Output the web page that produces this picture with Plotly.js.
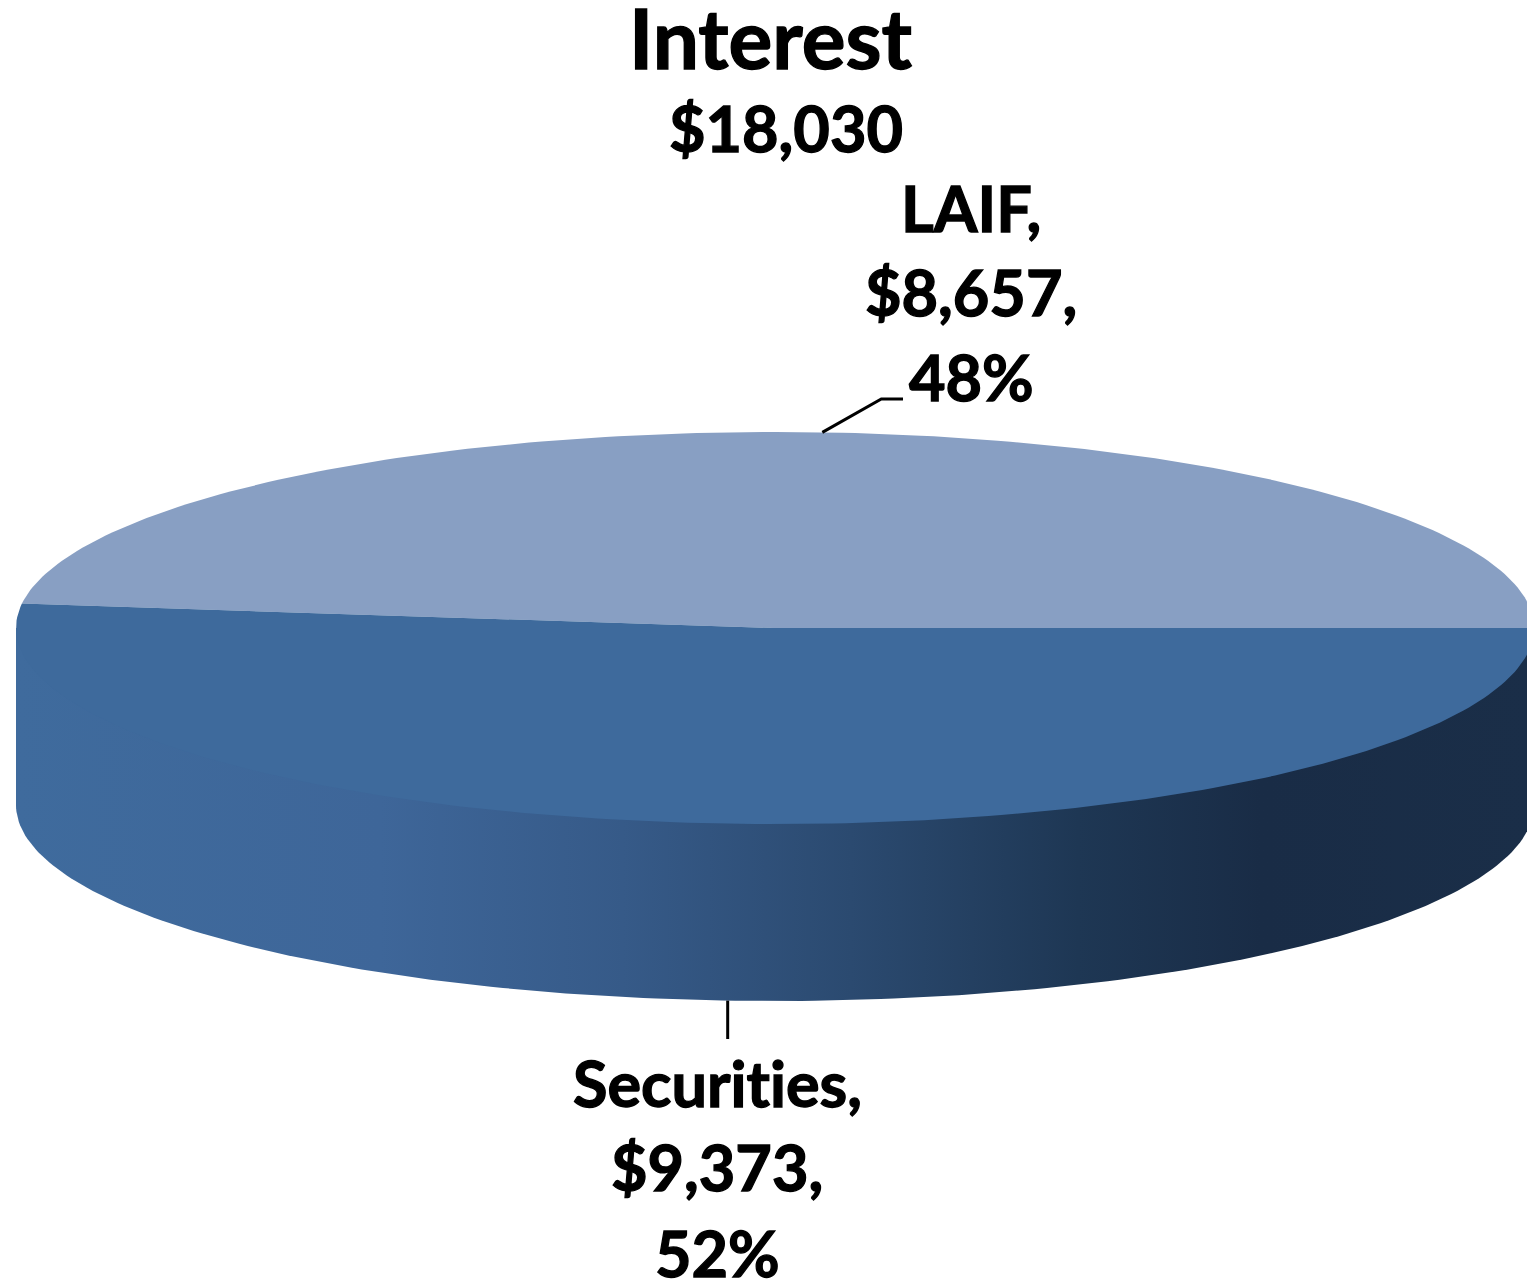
<!DOCTYPE html>
<html>
<head>
<meta charset="utf-8">
<script src="https://cdn.plot.ly/plotly-3.0.1.min.js"></script>
<style>
html,body{margin:0;padding:0;background:#fff}
#chart{width:1527px;height:1282px}
.annotation-text{font-variant-ligatures:none;font-feature-settings:"liga" 0,"clig" 0;stroke:#000;stroke-width:1.3px}
</style>
</head>
<body>
<div id="chart"></div>
<script>
// Data
const categories = ['Securities', 'LAIF'];
const values = [9373, 8657];
const percents = ['52%', '48%'];
const chartTitle = 'Interest';
const totalLabel = '$18,030';

// Pie geometry (pixels on the hidden axes)
const cx = 775, cy = 628, rx = 759, ry = 196, depth = 177;
const total = values.reduce((a, b) => a + b, 0);
const secSweep = values[0] / total * 360;
const pt = (deg, dy) => [cx + rx * Math.cos(deg * Math.PI / 180), cy + ry * Math.sin(deg * Math.PI / 180) + (dy || 0)];
function arc(a0, a1, dy) {
  const out = [], n = Math.max(2, Math.ceil(Math.abs(a1 - a0)));
  for (let i = 0; i <= n; i++) out.push(pt(a0 + (a1 - a0) * i / n, dy));
  return out;
}
const trace = (pts, extra) => Object.assign({
  x: pts.map(p => p[0]), y: pts.map(p => p[1]), type: 'scatter', mode: 'lines',
  line: {width: 0}, fill: 'toself', hoverinfo: 'skip', showlegend: false
}, extra);

// Side wall runs under the top face so no seam shows between them
const sidePts = [pt(0, 0)].concat(arc(0, 180, depth)).concat([pt(180, 0)]);
const side = trace(sidePts, {
  name: 'side',
  fillgradient: {type: 'horizontal', colorscale: [
    [0, '#3f6b9d'], [0.24, '#3e6699'], [0.4, '#365a88'], [0.55, '#2b4a70'],
    [0.7, '#1e3754'], [0.82, '#192c46'], [1, '#1a2e48']
  ]}
});
const topSec = trace([[cx, cy]].concat(arc(0, secSweep, 0)).concat([[cx, cy]]), {name: categories[0], fillcolor: '#3e6a9c'});
const topLaif = trace([[cx, cy]].concat(arc(secSweep, 360, 0)).concat([[cx, cy]]), {name: categories[1], fillcolor: '#889fc3'});

// Leader lines start at each slice's mid angle on the pie's edge
const laifEdge = pt(secSweep + (360 - secSweep) / 2, 0);
const secEdge = pt(secSweep / 2, depth);
const leader = (pts) => ({x: pts.map(p => p[0]), y: pts.map(p => p[1]), type: 'scatter', mode: 'lines',
  line: {color: '#000', width: 3}, hoverinfo: 'skip', showlegend: false});
const leaderLaif = leader([laifEdge, [laifEdge[0] + 59, 399], [903, 399]]);
const leaderSec = leader([secEdge, [secEdge[0], 1039]]);

const FONT = 'Lato, Carlito, Calibri, sans-serif';
const money = v => '$' + v.toLocaleString('en-US');
const note = (text, x, y, size) => ({
  text: '<b>' + text + '</b>', x, y, xref: 'x', yref: 'y', xanchor: 'center', yanchor: 'middle',
  showarrow: false, font: {family: FONT, size, color: '#000'}
});
const LS = 63;
const annotations = [
  note(chartTitle, 771, 37, 82),
  note(totalLabel, 786, 127, LS),
  note(categories[1] + ',', 971, 207, LS),
  note(money(values[1]) + ',', 971, 291, LS),
  note(percents[1], 971, 376, LS),
  note(categories[0] + ',', 717, 1082, LS),
  note(money(values[0]) + ',', 717, 1166, LS),
  note(percents[0], 717, 1252, LS)
];

Plotly.newPlot('chart', [side, topLaif, topSec, leaderLaif, leaderSec], {
  width: 1527, height: 1282,
  margin: {l: 0, r: 0, t: 0, b: 0, pad: 0},
  paper_bgcolor: '#fff', plot_bgcolor: '#fff',
  showlegend: false,
  xaxis: {range: [0, 1527], visible: false, fixedrange: true},
  yaxis: {range: [1282, 0], visible: false, fixedrange: true},
  annotations
}, {displayModeBar: false, staticPlot: true});
</script>
</body>
</html>
